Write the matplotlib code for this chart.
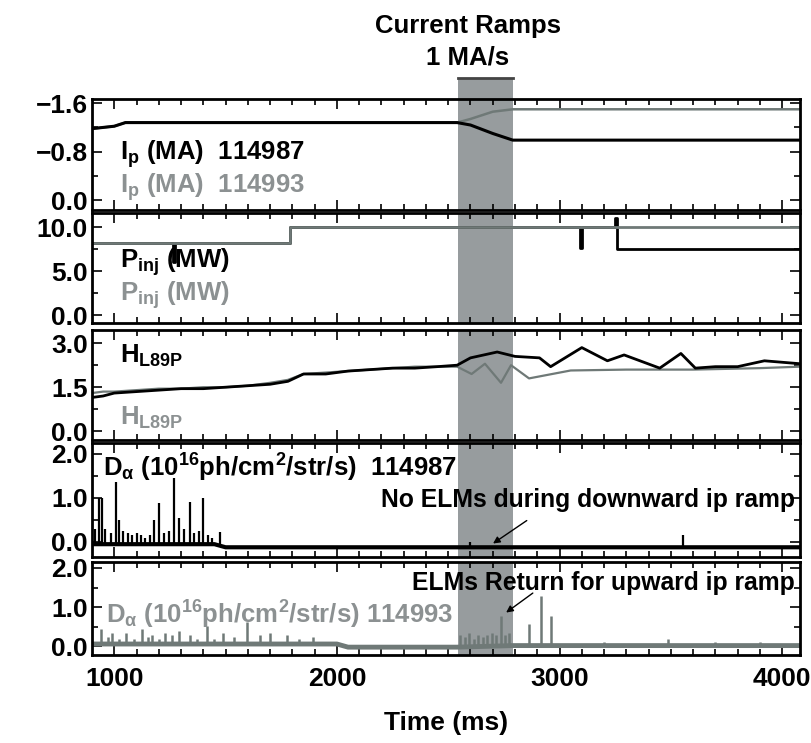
import numpy as np
import matplotlib
matplotlib.use('Agg')
import matplotlib.pyplot as plt
import matplotlib.transforms as mtransforms
from matplotlib.patches import Rectangle

plt.rcParams['font.family'] = ['Liberation Sans', 'DejaVu Sans']
plt.rcParams['font.weight'] = 'bold'
plt.rcParams['axes.labelweight'] = 'bold'
plt.rcParams['mathtext.fontset'] = 'custom'
plt.rcParams['mathtext.rm'] = 'Liberation Sans:bold'
plt.rcParams['mathtext.bf'] = 'Liberation Sans:bold'
plt.rcParams['mathtext.it'] = 'Liberation Sans:bold'

# ---- data ----
ramp = (2543, 2791)

# plasma current, MA (sign as plotted)
ip_t = [900, 1000, 1050, 2540, 2600, 2700, 2790, 4080]
ip_114987 = [-1.18, -1.22, -1.28, -1.28, -1.24, -1.10, -0.99, -0.99]
ip_114993 = [-1.18, -1.22, -1.28, -1.28, -1.34, -1.46, -1.50, -1.50]

# injected power, MW
pinj_t_87 = [900, 1265, 1265, 1275, 1275, 1790, 1790, 3090, 3090, 3100, 3100, 3250, 3250, 3260, 3260, 4080]
pinj_87 = [8.2, 8.2, 6.0, 6.0, 8.2, 8.2, 10.0, 10.0, 7.6, 7.6, 10.0, 10.0, 11.0, 11.0, 7.5, 7.5]
pinj_t_93 = [900, 1790, 1790, 4080]
pinj_93 = [8.2, 8.2, 10.0, 10.0]

# confinement factor H89P
h_t_87 = [900, 950, 1000, 1100, 1200, 1300, 1400, 1500, 1600, 1700, 1780, 1850, 1950, 2050, 2150, 2250,
          2350, 2450, 2540, 2600, 2720, 2800, 2910, 2960, 3100, 3215, 3290, 3450, 3545, 3610, 3700,
          3800, 3920, 4080]
h_87 = [1.15, 1.2, 1.3, 1.35, 1.4, 1.45, 1.45, 1.5, 1.55, 1.6, 1.7, 1.95, 1.95, 2.05, 2.1, 2.15,
        2.15, 2.2, 2.25, 2.5, 2.7, 2.55, 2.5, 2.2, 2.85, 2.4, 2.6, 2.15, 2.65, 2.15, 2.2,
        2.2, 2.4, 2.3]
h_t_93 = [900, 950, 1000, 1100, 1200, 1300, 1400, 1500, 1600, 1700, 1780, 1850, 1950, 2050, 2150, 2250,
          2350, 2450, 2540, 2605, 2665, 2737, 2782, 2863, 3050, 3300, 3600, 3900, 4080]
h_93 = [1.3, 1.35, 1.35, 1.4, 1.45, 1.45, 1.5, 1.5, 1.55, 1.65, 1.75, 1.95, 2.0, 2.05, 2.1, 2.15,
        2.2, 2.2, 2.2, 1.95, 2.3, 1.65, 2.25, 1.8, 2.07, 2.1, 2.1, 2.15, 2.2]

# D-alpha, 10^16 ph/cm^2/str/s
da87_base_t = [900, 1450, 1500, 4080]
da87_base = [-0.05, -0.05, -0.12, -0.12]
da87_spike_t = [915, 932, 947, 960, 985, 1009, 1022, 1040, 1060, 1080, 1100, 1120, 1140, 1160, 1180,
                1203, 1225, 1245, 1270, 1293, 1315, 1338, 1360, 1380, 1397, 1420, 1440, 1473, 2600, 3553]
da87_spike = [0.3, 1.0, 1.0, 0.3, 0.2, 1.35, 0.5, 0.25, 0.2, 0.15, 0.2, 0.15, 0.1, 0.15, 0.5,
              0.88, 0.2, 0.25, 1.44, 0.55, 0.3, 0.9, 0.2, 0.25, 1.0, 0.15, 0.1, 0.22, 0.0, 0.15]

da93_base_t = [900, 2000, 2050, 2540, 2790, 4080]
da93_base = [0.06, 0.06, -0.02, -0.02, 0.02, 0.02]
da93_spike_t = [941, 970, 991, 1020, 1054, 1090, 1126, 1150, 1171, 1200, 1230, 1260, 1290, 1338, 1370,
                1415, 1450, 1487, 1540, 1595, 1654, 1700, 1776, 1830, 1893, 1956,
                2555, 2575, 2595, 2615, 2635, 2655, 2675, 2695, 2715, 2737, 2755, 2775,
                2863, 2917, 2962, 3200, 3485, 3700, 3900]
da93_spike = [0.45, 0.25, 0.35, 0.2, 0.35, 0.2, 0.45, 0.25, 0.3, 0.2, 0.35, 0.3, 0.4, 0.3, 0.2,
              0.53, 0.2, 0.35, 0.25, 0.63, 0.3, 0.35, 0.3, 0.2, 0.25, 0.08,
              0.3, 0.25, 0.35, 0.2, 0.3, 0.25, 0.3, 0.35, 0.3, 0.78, 0.3, 0.35,
              0.58, 1.28, 0.78, 0.1, 0.2, 0.12, 0.1]

black = 'black'
grey = '#6f7977'
grey_txt = '#8c9192'
shade = '#979c9e'
fs = 18.5   # panel labels
afs = 17.8  # annotation texts
tfs = 19    # tick labels

fig = plt.figure(figsize=(8.12, 7.43), dpi=100)
L, W = 92 / 812, 708 / 812
panels = [(99, 210), (213, 323), (330, 440), (443, 557), (562, 655)]
axes = []
for top, bot in panels:
    ax = fig.add_axes([L, 1 - bot / 743, W, (bot - top) / 743])
    axes.append(ax)
ax1, ax2, ax3, ax4, ax5 = axes

for ax in axes:
    ax.set_xlim(900, 4080)
    ax.axvspan(*ramp, color=shade, zorder=0, lw=0)
    for s in ax.spines.values():
        s.set_linewidth(2)
    ax.set_xticks([1000, 2000, 3000, 4000])
    ax.set_xticks(np.arange(1000, 4001, 100), minor=True)
    ax.tick_params(which='both', direction='in', top=True, right=True, width=1.2)
    ax.tick_params(which='major', length=7, labelsize=tfs, pad=3)
    ax.tick_params(which='minor', length=4)
    ax.tick_params(axis='x', labelbottom=False)

# panel 1: Ip
ax1.plot(ip_t, ip_114993, color=grey, lw=1.8)
ax1.plot(ip_t, ip_114987, color=black, lw=2.2)
ax1.set_ylim(0.165, -1.67)
ax1.set_yticks([-1.6, -0.8, 0.0])
ax1.set_yticklabels(['\u22121.6', '\u22120.8', '0.0'])
ax1.set_yticks([-1.2, -0.4], minor=True)
ax1.text(0.04, 0.50, r'$\mathrm{I_p}$ (MA)  114987', transform=ax1.transAxes, fontsize=fs,
         color=black, va='center')
ax1.text(0.04, 0.21, r'$\mathrm{I_p}$ (MA)  114993', transform=ax1.transAxes, fontsize=fs,
         color=grey_txt, va='center')
trans = mtransforms.blended_transform_factory(ax1.transData, ax1.transAxes)
ax1.add_patch(Rectangle((ramp[0], 1.0), ramp[1] - ramp[0], 0.19, transform=trans,
                        color=shade, clip_on=False, lw=0, zorder=0))
ax1.plot(ramp, [1.19, 1.19], transform=trans, color='#444444', lw=2, clip_on=False)
fig.text(0.576, 0.965, 'Current Ramps', ha='center', va='center', fontsize=18.5)
fig.text(0.576, 0.922, '1 MA/s', ha='center', va='center', fontsize=18.5)

# panel 2: Pinj
ax2.plot(pinj_t_87, pinj_87, color=black, lw=2.0)
ax2.plot(pinj_t_93, pinj_93, color=grey, lw=2.0)
ax2.set_ylim(-0.9, 11.6)
ax2.set_yticks([0, 5, 10])
ax2.set_yticklabels(['0.0', '5.0', '10.0'])
ax2.set_yticks([2.5, 7.5], minor=True)
ax2.text(0.04, 0.55, r'$\mathrm{P_{inj}}$ (MW)', transform=ax2.transAxes, fontsize=fs,
         color=black, va='center')
ax2.text(0.04, 0.25, r'$\mathrm{P_{inj}}$ (MW)', transform=ax2.transAxes, fontsize=fs,
         color=grey_txt, va='center')

# panel 3: H89P
ax3.plot(h_t_93, h_93, color=grey, lw=1.6)
ax3.plot(h_t_87, h_87, color=black, lw=2.0)
ax3.set_ylim(-0.3, 3.45)
ax3.set_yticks([0, 1.5, 3.0])
ax3.set_yticklabels(['0.0', '1.5', '3.0'])
ax3.set_yticks([0.75, 2.25], minor=True)
ax3.text(0.04, 0.76, r'$\mathrm{H_{L89P}}$', transform=ax3.transAxes, fontsize=fs,
         color=black, va='center')
ax3.text(0.04, 0.20, r'$\mathrm{H_{L89P}}$', transform=ax3.transAxes, fontsize=fs,
         color=grey_txt, va='center')

# panel 4: D-alpha 114987
base87 = np.interp(da87_spike_t, da87_base_t, da87_base)
ax4.plot(da87_base_t, da87_base, color=black, lw=3)
ax4.vlines(da87_spike_t, base87, da87_spike, color=black, lw=1.6)
ax4.set_ylim(-0.34, 2.24)
ax4.set_yticks([0, 1, 2])
ax4.set_yticklabels(['0.0', '1.0', '2.0'])
ax4.set_yticks([0.5, 1.5], minor=True)
ax4.text(0.015, 0.78, r'$\mathrm{D_\alpha}$ ($\mathrm{10^{16}}$ph/cm$^\mathrm{2}$/str/s)  114987',
         transform=ax4.transAxes, fontsize=fs, color=black, va='center')
ax4.text(0.408, 0.50, 'No ELMs during downward ip ramp', transform=ax4.transAxes,
         fontsize=afs, color=black, ha='left', va='center', clip_on=False)
ax4.annotate('', xy=(2691, -0.07), xytext=(2863, 0.52), annotation_clip=False,
             arrowprops=dict(arrowstyle='-|>', color=black, lw=1))

# panel 5: D-alpha 114993
base93 = np.interp(da93_spike_t, da93_base_t, da93_base)
ax5.plot(da93_base_t, da93_base, color=grey, lw=3.5)
ax5.vlines(da93_spike_t, base93, da93_spike, color=grey, lw=1.8)
ax5.set_ylim(-0.22, 2.15)
ax5.set_yticks([0, 1, 2])
ax5.set_yticklabels(['0.0', '1.0', '2.0'])
ax5.set_yticks([0.5, 1.5], minor=True)
ax5.text(0.02, 0.43, r'$\mathrm{D_\alpha}$ ($\mathrm{10^{16}}$ph/cm$^\mathrm{2}$/str/s) 114993',
         transform=ax5.transAxes, fontsize=fs, color=grey_txt, va='center')
ax5.text(0.452, 0.77, 'ELMs Return for upward ip ramp', transform=ax5.transAxes,
         fontsize=afs, color=black, ha='left', va='center', clip_on=False)
ax5.annotate('', xy=(2750, 0.82), xytext=(2890, 1.40), annotation_clip=False,
             arrowprops=dict(arrowstyle='-|>', color=black, lw=1))
ax5.tick_params(axis='x', labelbottom=True, labelsize=tfs, pad=9)
ax5.set_xlabel('Time (ms)', fontsize=tfs, labelpad=14)

fig.savefig('out.png', dpi=100)
